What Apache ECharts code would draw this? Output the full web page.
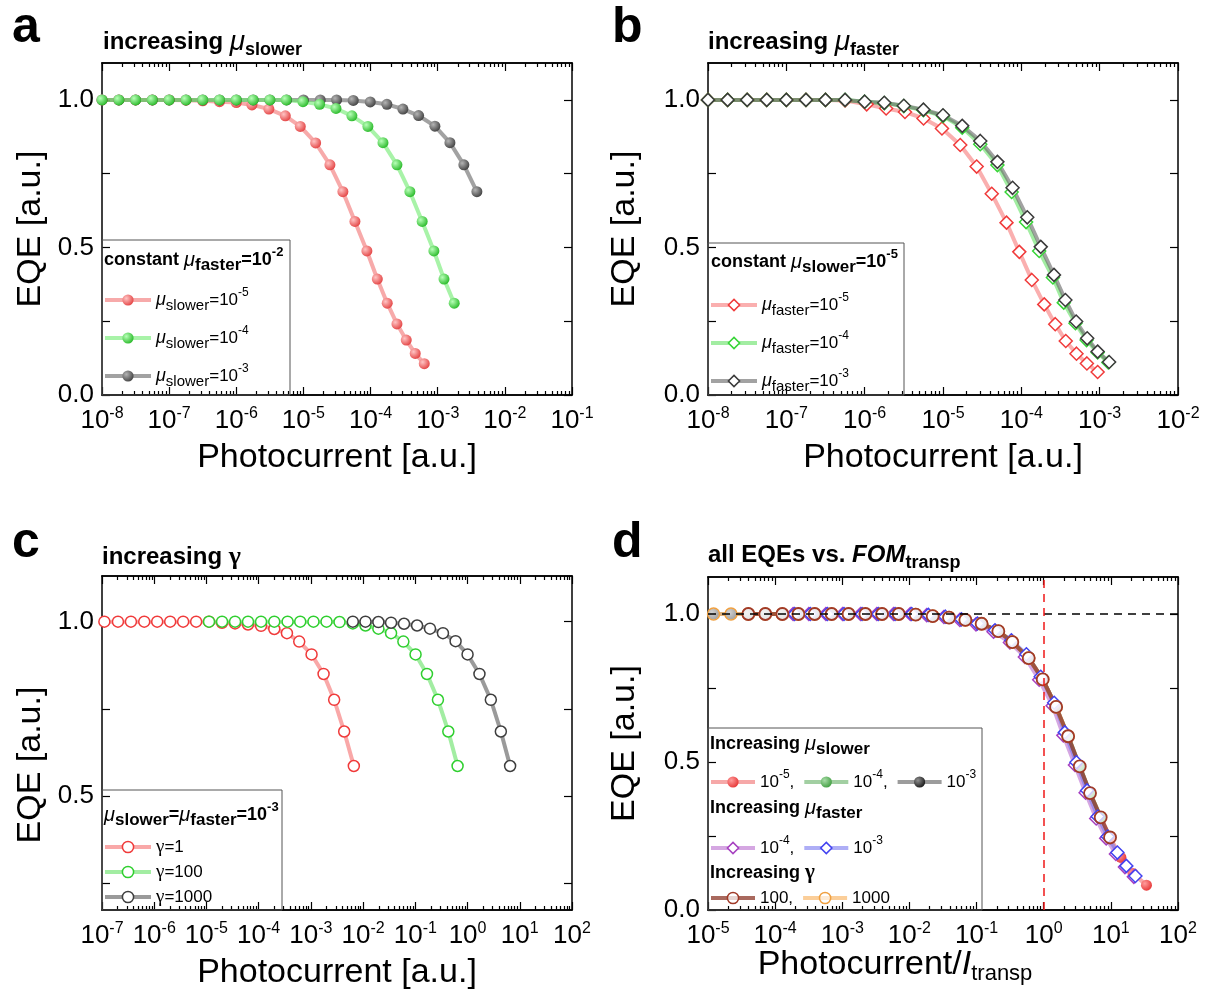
<!DOCTYPE html>
<html>
<head>
<meta charset="utf-8">
<script src="https://cdn.jsdelivr.net/npm/echarts@6.0.0/dist/echarts.min.js"></script>
<style>
  html, body { margin: 0; padding: 0; background: #fff; }
  #chart { width: 1216px; height: 1001px; }
</style>
</head>
<body>
<div id="chart"></div>
<script>
// ---- panel a: increasing mu_slower (mu_faster = 1e-2)
const aX_slow5 = [1e-8,1.78e-8,3.16e-8,5.62e-8,1e-7,1.78e-7,3.16e-7,5.62e-7,1e-6,1.71e-6,3.06e-6,5.37e-6,8.97e-6,1.52e-5,2.48e-5,3.87e-5,5.85e-5,8.81e-5,1.26e-4,1.77e-4,2.47e-4,3.40e-4,4.62e-4,6.30e-4];
const aY_slow5 = [1,1,1,1,1,0.999,0.997,0.994,0.991,0.983,0.969,0.946,0.910,0.854,0.780,0.689,0.588,0.488,0.393,0.311,0.241,0.186,0.141,0.106];
const aX_slow4 = [1e-8,1.78e-8,3.16e-8,5.62e-8,1e-7,1.78e-7,3.16e-7,5.62e-7,1e-6,1.78e-6,3.16e-6,5.55e-6,9.84e-6,1.74e-5,3.05e-5,5.27e-5,9.12e-5,1.53e-4,2.47e-4,3.85e-4,5.87e-4,8.77e-4,1.24e-3,1.76e-3];
const aY_slow4 = [1,1,1,1,1,1,1,1,1,1,1,1,0.994,0.985,0.971,0.946,0.910,0.855,0.780,0.689,0.588,0.488,0.393,0.311];
const aX_slow3 = [1e-8,1.78e-8,3.16e-8,5.62e-8,1e-7,1.78e-7,3.16e-7,5.62e-7,1e-6,1.78e-6,3.16e-6,5.62e-6,1e-5,1.78e-5,3.12e-5,5.52e-5,9.89e-5,1.75e-4,3.03e-4,5.19e-4,9.08e-4,1.52e-3,2.45e-3,3.83e-3];
const aY_slow3 = [1,1,1,1,1,1,1,1,1,1,1,1,1,1,1,0.998,0.993,0.985,0.969,0.947,0.911,0.855,0.780,0.689];

// ---- panel b: increasing mu_faster (mu_slower = 1e-5)
const bX_fast5 = [1e-8,1.78e-8,3.16e-8,5.62e-8,1e-7,1.78e-7,3.16e-7,5.62e-7,1.06e-6,1.88e-6,3.27e-6,5.64e-6,9.70e-6,1.66e-5,2.69e-5,4.19e-5,6.47e-5,9.42e-5,1.36e-4,1.96e-4,2.71e-4,3.69e-4,5.06e-4,6.87e-4,9.42e-4];
const bY_fast5 = [1,1,1,1,1,1,1,0.998,0.985,0.971,0.959,0.937,0.903,0.847,0.774,0.682,0.584,0.485,0.390,0.307,0.240,0.183,0.140,0.107,0.078];
const bX_fast4 = [1e-8,1.78e-8,3.16e-8,5.62e-8,1e-7,1.78e-7,3.16e-7,5.62e-7,1e-6,1.78e-6,3.16e-6,5.62e-6,1e-5,1.76e-5,2.99e-5,4.95e-5,7.52e-5,1.15e-4,1.69e-4,2.53e-4,3.48e-4,4.91e-4,6.81e-4,9.42e-4,1.29e-3];
const bY_fast4 = [1,1,1,1,1,1,1,1,0.994,0.989,0.979,0.965,0.945,0.906,0.850,0.779,0.688,0.586,0.488,0.398,0.313,0.243,0.186,0.144,0.110];
const bX_fast3 = [1e-8,1.78e-8,3.16e-8,5.62e-8,1e-7,1.78e-7,3.16e-7,5.62e-7,1e-6,1.78e-6,3.16e-6,5.62e-6,1e-5,1.76e-5,2.99e-5,4.95e-5,7.73e-5,1.19e-4,1.77e-4,2.61e-4,3.65e-4,5.01e-4,6.93e-4,9.42e-4,1.32e-3];
const bY_fast3 = [1,1,1,1,1,1,1,1,0.994,0.990,0.980,0.967,0.948,0.912,0.861,0.790,0.702,0.602,0.502,0.407,0.322,0.249,0.192,0.147,0.112];

// ---- panel c: increasing gamma (mu_slower = mu_faster = 1e-3)
const cX_g1 = [1.11e-7,2.02e-7,3.58e-7,6.44e-7,1.14e-6,2.02e-6,3.58e-6,6.35e-6,1.12e-5,1.99e-5,3.53e-5,6.25e-5,1.11e-4,1.99e-4,3.48e-4,5.98e-4,1.03e-3,1.75e-3,2.79e-3,4.34e-3,6.64e-3];
const cY_g1 = [1,1,1,1,1,1,1,1,1,0.997,0.995,0.992,0.988,0.979,0.967,0.943,0.906,0.850,0.776,0.685,0.586];
const cX_g100 = [1.12e-5,1.99e-5,3.53e-5,6.25e-5,1.11e-4,1.99e-4,3.58e-4,6.25e-4,1.12e-3,1.99e-3,3.53e-3,6.35e-3,1.11e-2,1.96e-2,3.43e-2,5.90e-2,0.101,0.167,0.271,0.428,0.644];
const cY_g100 = [1,1,1,1,1,1,1,1,1,1,0.999,0.995,0.989,0.980,0.967,0.943,0.906,0.850,0.776,0.685,0.586];
const cX_g1000 = [6.35e-3,1.11e-2,1.96e-2,3.43e-2,6.07e-2,0.108,0.191,0.338,0.590,1.0,1.69,2.79,4.34,6.53];
const cY_g1000 = [1,1,0.999,0.997,0.994,0.989,0.980,0.967,0.944,0.906,0.850,0.776,0.685,0.586];

// ---- panel d: all EQEs vs FOM_transp
const dX_slow5 = [1.28e-4,2.22e-4,3.88e-4,6.95e-4,1.24e-3,2.21e-3,3.91e-3,6.92e-3,1.24e-2,2.22e-2,3.89e-2,6.81e-2,0.119,0.211,0.341,0.598,0.966,1.53,2.31,3.44,4.90,7.06,9.73,14.1,21.4,33.9];
const dY_slow5 = [1,1,1,1,1,1,1,1,0.998,0.993,0.988,0.980,0.967,0.942,0.905,0.851,0.779,0.686,0.587,0.485,0.395,0.313,0.245,0.178,0.123,0.084];
const dX_slow4 = [3.99e-5,7.14e-5,1.28e-4,2.22e-4,3.88e-4,6.95e-4,1.24e-3,2.21e-3,3.91e-3,6.92e-3,1.24e-2,2.22e-2,3.89e-2,6.81e-2,0.119,0.211,0.341,0.598,0.966,1.53,2.31,3.44,4.90,7.06];
const dY_slow4 = [1,1,1,1,1,1,1,1,1,1,0.998,0.993,0.988,0.980,0.967,0.942,0.905,0.851,0.779,0.686,0.587,0.485,0.395,0.313];
const dX_slow3 = [1.21e-5,2.20e-5,3.99e-5,7.14e-5,1.28e-4,2.22e-4,3.88e-4,6.95e-4,1.24e-3,2.21e-3,3.91e-3,6.92e-3,1.24e-2,2.22e-2,3.89e-2,6.81e-2,0.119,0.211,0.341,0.598,0.966,1.53];
const dY_slow3 = [1,1,1,1,1,1,1,1,1,1,1,1,0.998,0.993,0.988,0.980,0.967,0.942,0.905,0.851,0.779,0.686];
const dX_fast4 = [1.85e-4,3.17e-4,5.70e-4,1.01e-3,1.87e-3,3.27e-3,5.80e-3,1.03e-2,1.81e-2,3.26e-2,5.64e-2,9.8e-2,0.179,0.314,0.524,0.857,1.36,1.96,2.92,4.21,6.05,8.52,11.9,16.2,22.0];
const dY_fast4 = [1,1,1,1,1,1,1,1,0.996,0.990,0.980,0.965,0.940,0.904,0.855,0.778,0.690,0.590,0.490,0.396,0.309,0.242,0.189,0.145,0.112];
const dX_fast3 = [1.95e-4,3.34e-4,6.00e-4,1.06e-3,1.97e-3,3.44e-3,6.11e-3,1.08e-2,1.91e-2,3.43e-2,5.94e-2,0.103,0.188,0.330,0.552,0.902,1.43,2.06,3.07,4.43,6.37,8.97,12.5,17.0,23.2];
const dY_fast3 = [1,1,1,1,1,1,1,1,0.997,0.991,0.982,0.968,0.945,0.911,0.864,0.788,0.700,0.600,0.499,0.404,0.316,0.248,0.194,0.149,0.115];
const dX_g1000 = [1.21e-5,2.20e-5,3.99e-5,7.14e-5,1.28e-4,2.22e-4,3.88e-4,6.95e-4,1.24e-3,2.21e-3,3.91e-3,6.92e-3,1.24e-2,2.22e-2,3.89e-2,6.81e-2,0.119,0.211,0.341,0.598,0.966,1.53,2.31];
const dY_g1000 = [1,1,1,1,1,1,1,1,1,1,1,1,0.998,0.993,0.988,0.980,0.967,0.942,0.905,0.851,0.779,0.686,0.587];
const dX_g100 = [3.99e-5,7.14e-5,1.28e-4,2.22e-4,3.88e-4,6.95e-4,1.24e-3,2.21e-3,3.91e-3,6.92e-3,1.24e-2,2.22e-2,3.89e-2,6.81e-2,0.119,0.211,0.341,0.598,0.966,1.53,2.31,3.44,4.90,7.06,9.73];
const dY_g100 = [1,1,1,1,1,1,1,1,1,1,0.998,0.993,0.988,0.980,0.967,0.942,0.905,0.851,0.779,0.686,0.587,0.485,0.395,0.313,0.245];

// tick exponents / y ticks
const aExp = [-8,-7,-6,-5,-4,-3,-2,-1];
const bExp = [-8,-7,-6,-5,-4,-3,-2];
const cExp = [-7,-6,-5,-4,-3,-2,-1,0,1,2];
const dExp = [-5,-4,-3,-2,-1,0,1,2];
const yTicks = [0,0.25,0.5,0.75,1.0];
const yLabels = [0,0.5,1.0];

const FONT = 'Liberation Sans, Arial, sans-serif';
const SERIF = 'Liberation Serif, Times New Roman, serif';

function zip(xs, ys) { return xs.map((x, i) => [x, ys[i]]); }
function minors(exps) {
  const r = [];
  for (let i = 0; i < exps.length - 1; i++)
    for (let m = 2; m <= 9; m++) r.push(exps[i] + Math.log10(m));
  return r;
}
function ball(light, dark) {
  return {type: 'radial', x: 0.35, y: 0.35, r: 0.75,
    colorStops: [{offset: 0, color: light}, {offset: 1, color: dark}]};
}

const tickRich = {
  b: {fontSize: 26, lineHeight: 30, fontFamily: FONT, color: '#000'},
  s: {fontSize: 16, lineHeight: 16, verticalAlign: 'top', fontFamily: FONT, color: '#000'}
};
const titleRich = {
  t: {fontSize: 24, fontWeight: 'bold', lineHeight: 34, fontFamily: FONT, color: '#000'},
  ti: {fontSize: 24, fontWeight: 'bold', fontStyle: 'italic', lineHeight: 34, fontFamily: FONT, color: '#000'},
  m: {fontSize: 28, fontWeight: 'normal', fontStyle: 'italic', lineHeight: 34, fontFamily: FONT, color: '#000'},
  g: {fontSize: 26, fontWeight: 'bold', lineHeight: 34, fontFamily: SERIF, color: '#000'},
  sb: {fontSize: 18, fontWeight: 'bold', lineHeight: 14, verticalAlign: 'bottom', fontFamily: FONT, color: '#000'}
};
const boxRich = {
  t: {fontSize: 18, fontWeight: 'bold', lineHeight: 28, fontFamily: FONT, color: '#000'},
  m: {fontSize: 20, fontWeight: 'normal', fontStyle: 'italic', lineHeight: 28, fontFamily: FONT, color: '#000'},
  g: {fontSize: 21, fontWeight: 'bold', lineHeight: 28, fontFamily: SERIF, color: '#000'},
  sb: {fontSize: 17, fontWeight: 'bold', lineHeight: 14, verticalAlign: 'bottom', fontFamily: FONT, color: '#000'},
  sp: {fontSize: 13, fontWeight: 'bold', lineHeight: 13, verticalAlign: 'top', fontFamily: FONT, color: '#000'}
};
function legRich(lh) {
  return {
    m: {fontSize: 18, fontStyle: 'italic', lineHeight: lh, fontFamily: FONT, color: '#000'},
    n: {fontSize: 17, lineHeight: lh, fontFamily: FONT, color: '#000'},
    g: {fontSize: 19, lineHeight: lh, fontFamily: SERIF, color: '#000'},
    sb: {fontSize: 15, lineHeight: 16, verticalAlign: 'bottom', fontFamily: FONT, color: '#000'},
    sp: {fontSize: 12, lineHeight: 12, verticalAlign: 'top', fontFamily: FONT, color: '#000'}
  };
}
const LEG = {
  a1: '{m|μ}{sb|slower}{n|=10}{sp|-5}', a2: '{m|μ}{sb|slower}{n|=10}{sp|-4}', a3: '{m|μ}{sb|slower}{n|=10}{sp|-3}',
  b1: '{m|μ}{sb|faster}{n|=10}{sp|-5}', b2: '{m|μ}{sb|faster}{n|=10}{sp|-4}', b3: '{m|μ}{sb|faster}{n|=10}{sp|-3}',
  c1: '{g|γ}{n|=1}', c2: '{g|γ}{n|=100}', c3: '{g|γ}{n|=1000}',
  d1: '{n|10}{sp|-5}{n|,}', d2: '{n|10}{sp|-4}{n|,}', d3: '{n|10}{sp|-3}',
  d4: '{n|10}{sp|-4}{n|,}', d5: '{n|10}{sp|-3}',
  d7: '{n|100,}', d6: '{n|1000}'
};

const axLine = {show: true, onZero: false, lineStyle: {color: '#000', width: 1.5}};
const tickLine = {color: '#000', width: 1.2};

function xAxesFor(gi, exps, logMin, logMax, nameOpt) {
  const lo = exps[0], hi = exps[exps.length - 1];
  const base = {gridIndex: gi, type: 'value', min: lo, max: hi, splitLine: {show: false}, axisLine: axLine};
  return [
    {gridIndex: gi, type: 'log', min: logMin, max: logMax, show: false, axisLine: {onZero: false}},
    Object.assign({}, base, {
      position: 'bottom',
      axisTick: {inside: true, length: 8, lineStyle: tickLine, customValues: exps},
      axisLabel: {customValues: exps, margin: 11, formatter: v => '{b|10}{s|' + v + '}', rich: tickRich},
      name: nameOpt.name, nameLocation: 'middle', nameGap: nameOpt.gap, nameMoveOverlap: false,
      nameTextStyle: Object.assign({fontSize: 34, color: '#000', fontFamily: FONT}, nameOpt.style || {})
    }),
    Object.assign({}, base, {position: 'bottom', axisTick: {inside: true, length: 4, lineStyle: tickLine, customValues: minors(exps)}, axisLabel: {show: false}}),
    Object.assign({}, base, {position: 'top', axisTick: {inside: true, length: 8, lineStyle: tickLine, customValues: exps}, axisLabel: {show: false}}),
    Object.assign({}, base, {position: 'top', axisTick: {inside: true, length: 4, lineStyle: tickLine, customValues: minors(exps)}, axisLabel: {show: false}})
  ];
}
function yAxesFor(gi, lo, hi, gap, pad) {
  const base = {gridIndex: gi, type: 'value', min: lo, max: hi, splitLine: {show: false}, axisLine: axLine,
    axisTick: {inside: true, length: 8, lineStyle: tickLine, customValues: yTicks}};
  return [
    Object.assign({}, base, {
      position: 'left',
      axisLabel: {customValues: yLabels, formatter: v => v.toFixed(1), fontSize: 26, margin: 8, color: '#000', fontFamily: FONT},
      name: 'EQE [a.u.]', nameLocation: 'middle', nameGap: gap, nameMoveOverlap: false,
      nameTextStyle: {fontSize: 34, color: '#000', fontFamily: FONT, padding: pad || 0}
    }),
    Object.assign({}, base, {position: 'right', axisLabel: {show: false}})
  ];
}

function ser(gi, name, xs, ys, o) {
  const s = {
    type: 'line', name: name, xAxisIndex: gi * 5, yAxisIndex: gi * 2,
    data: zip(xs, ys), clip: false, silent: true, emphasis: {disabled: true},
    symbol: o.symbol, symbolSize: o.size, showSymbol: true,
    lineStyle: {width: 4, color: o.line},
    itemStyle: {color: o.fill, borderColor: o.stroke || o.fill, borderWidth: o.bw || 0}
  };
  if (o.markLine) s.markLine = o.markLine;
  return s;
}

const pName = {name: 'Photocurrent [a.u.]', gap: 46};

const series = [
  // a
  ser(0, 'a1', aX_slow5, aY_slow5, {symbol: 'circle', size: 11, line: 'rgba(240,100,100,0.55)', fill: ball('#ffc4c4', '#e23a3a')}),
  ser(0, 'a3', aX_slow3, aY_slow3, {symbol: 'circle', size: 11, line: 'rgba(100,100,100,0.6)', fill: ball('#b4b4b4', '#3a3a3a')}),
  ser(0, 'a2', aX_slow4, aY_slow4, {symbol: 'circle', size: 11, line: 'rgba(110,235,110,0.6)', fill: ball('#b8ffb8', '#1fb51f')}),
  // b
  ser(1, 'b1', bX_fast5, bY_fast5, {symbol: 'diamond', size: 13, line: 'rgba(245,110,110,0.55)', fill: '#fff', stroke: '#f03a3a', bw: 1.5}),
  ser(1, 'b2', bX_fast4, bY_fast4, {symbol: 'diamond', size: 13, line: 'rgba(100,225,100,0.6)', fill: '#fff', stroke: '#36d436', bw: 1.5}),
  ser(1, 'b3', bX_fast3, bY_fast3, {symbol: 'diamond', size: 13, line: 'rgba(100,100,100,0.6)', fill: '#fff', stroke: '#3a3a3a', bw: 1.5}),
  // c
  ser(2, 'c1', cX_g1, cY_g1, {symbol: 'circle', size: 11, line: 'rgba(245,110,110,0.6)', fill: '#fff', stroke: '#f03a3a', bw: 1.5}),
  ser(2, 'c2', cX_g100, cY_g100, {symbol: 'circle', size: 11, line: 'rgba(100,225,100,0.6)', fill: '#fff', stroke: '#2fcf2f', bw: 1.5}),
  ser(2, 'c3', cX_g1000, cY_g1000, {symbol: 'circle', size: 11, line: 'rgba(100,100,100,0.65)', fill: '#fff', stroke: '#3e3e3e', bw: 1.5}),
  // d
  ser(3, 'd1', dX_slow5, dY_slow5, {symbol: 'circle', size: 11, line: 'rgba(240,110,110,0.6)', fill: ball('#ff9c9c', '#e53030'),
    markLine: {silent: true, symbol: 'none', label: {show: false}, animation: false,
      data: [
        {yAxis: 1, lineStyle: {color: '#000', type: [8, 6], width: 1.5}},
        {xAxis: 1, lineStyle: {color: '#f01818', type: [8, 6], width: 1.5}}
      ]}}),
  ser(3, 'd2', dX_slow4, dY_slow4, {symbol: 'circle', size: 11, line: 'rgba(100,175,100,0.6)', fill: ball('#a8dca8', '#3a9a3a')}),
  ser(3, 'd3', dX_slow3, dY_slow3, {symbol: 'circle', size: 11, line: 'rgba(90,90,90,0.6)', fill: ball('#909090', '#101010')}),
  ser(3, 'd4', dX_fast4, dY_fast4, {symbol: 'diamond', size: 13, line: 'rgba(190,120,210,0.65)', fill: '#fff', stroke: '#a63fc0', bw: 1.5}),
  ser(3, 'd5', dX_fast3, dY_fast3, {symbol: 'diamond', size: 13, line: 'rgba(120,120,240,0.6)', fill: '#fff', stroke: '#4242f0', bw: 1.5}),
  ser(3, 'd6', dX_g1000, dY_g1000, {symbol: 'circle', size: 12, line: 'rgba(250,185,110,0.7)', fill: 'rgba(255,255,255,0.6)', stroke: '#f0a040', bw: 1.5}),
  ser(3, 'd7', dX_g100, dY_g100, {symbol: 'circle', size: 12, line: 'rgba(140,55,40,0.75)', fill: 'rgba(255,255,255,0.72)', stroke: '#a03a28', bw: 1.8})
];

function legend(left, top, orient, gap, names, lh, bw, iw) {
  return {
    left: left, top: top, orient: orient, padding: 0, itemGap: gap,
    itemWidth: iw || 46, itemHeight: 14, data: names, selectedMode: false,
    formatter: n => LEG[n],
    textStyle: {color: '#000', fontFamily: FONT, fontSize: 17, lineHeight: lh, rich: legRich(lh)},
    lineStyle: {width: 4},
    itemStyle: {borderWidth: bw}
  };
}

function boxTitle(text, left, top) {
  return {text: text, left: left, top: top, padding: 0, textStyle: {fontFamily: FONT, rich: boxRich}};
}
function letter(t, left, top) {
  return {text: t, left: left, top: top, padding: 0, textStyle: {fontSize: 50, fontWeight: 'bold', color: '#000', fontFamily: FONT}};
}
function frame(x, y, w, h) {
  return {type: 'rect', silent: true, z: 100, shape: {x: x, y: y, width: w, height: h},
    style: {fill: 'none', stroke: '#555', lineWidth: 1}};
}

const option = {
  animation: false,
  backgroundColor: '#fff',
  textStyle: {fontFamily: FONT},
  grid: [
    {left: 102, top: 63, width: 470, height: 332, outerBoundsMode: 'none'},
    {left: 708, top: 63, width: 470, height: 332, outerBoundsMode: 'none'},
    {left: 102, top: 576, width: 470, height: 334, outerBoundsMode: 'none'},
    {left: 708, top: 577, width: 470, height: 333, outerBoundsMode: 'none'}
  ],
  xAxis: [].concat(
    xAxesFor(0, aExp, 1e-8, 1e-1, pName),
    xAxesFor(1, bExp, 1e-8, 1e-2, pName),
    xAxesFor(2, cExp, 1e-7, 1e2, pName),
    xAxesFor(3, dExp, 1e-5, 1e2, {
      name: '{n|Photocurrent/}{i|I}{s|transp}', gap: 35,
      style: {padding: [0, 96, 0, 0], rich: {
        n: {fontSize: 34, lineHeight: 40, fontFamily: FONT, color: '#000'},
        i: {fontSize: 34, fontStyle: 'italic', lineHeight: 40, fontFamily: FONT, color: '#000'},
        s: {fontSize: 22, lineHeight: 10, verticalAlign: 'bottom', fontFamily: FONT, color: '#000'}
      }}
    })
  ),
  yAxis: [].concat(
    yAxesFor(0, 0, 1.125, 54),
    yAxesFor(1, 0, 1.125, 66),
    yAxesFor(2, 0.173, 1.131, 54, [0, 44, 0, 0]),
    yAxesFor(3, 0, 1.125, 66)
  ),
  title: [
    letter('a', 12, 3), letter('b', 612, 3), letter('c', 12, 518), letter('d', 612, 518),
    {text: '{t|increasing }{m|μ}{sb|slower}', left: 103, top: 25, padding: 0, textStyle: {rich: titleRich}},
    {text: '{t|increasing }{m|μ}{sb|faster}', left: 708, top: 25, padding: 0, textStyle: {rich: titleRich}},
    {text: '{t|increasing }{g|γ}', left: 102, top: 540, padding: 0, textStyle: {rich: titleRich}},
    {text: '{t|all EQEs vs. }{ti|FOM}{sb|transp}', left: 708, top: 538, padding: 0, textStyle: {rich: titleRich}},
    boxTitle('{t|constant }{m|μ}{sb|faster}{t|=10}{sp|-2}', 104, 246),
    boxTitle('{t|constant }{m|μ}{sb|slower}{t|=10}{sp|-5}', 711, 248),
    boxTitle('{m|μ}{sb|slower}{t|=}{m|μ}{sb|faster}{t|=10}{sp|-3}', 104, 801),
    boxTitle('{t|Increasing }{m|μ}{sb|slower}', 710, 730),
    boxTitle('{t|Increasing }{m|μ}{sb|faster}', 710, 794),
    boxTitle('{t|Increasing }{g|γ}', 710, 859)
  ],
  legend: [
    legend(103, 287, 'vertical', 12, ['a1', 'a2', 'a3'], 26, 0),
    legend(709, 292, 'vertical', 12, ['b1', 'b2', 'b3'], 26, 1.5),
    legend(103, 836, 'vertical', 3, ['c1', 'c2', 'c3'], 22, 1.5),
    legend(709, 769, 'horizontal', 8, ['d1', 'd2', 'd3'], 26, 0, 44),
    legend(709, 835, 'horizontal', 8, ['d4', 'd5'], 26, 1.5, 44),
    legend(709, 885, 'horizontal', 8, ['d7', 'd6'], 26, 1.5, 44)
  ],
  graphic: [
    frame(102, 240, 188, 155),
    frame(708, 243, 196, 152),
    frame(102, 790, 180, 120),
    frame(708, 728, 274, 182)
  ],
  series: series
};

const chart = echarts.init(document.getElementById('chart'), null, {renderer: 'canvas'});
chart.setOption(option);
</script>
</body>
</html>
